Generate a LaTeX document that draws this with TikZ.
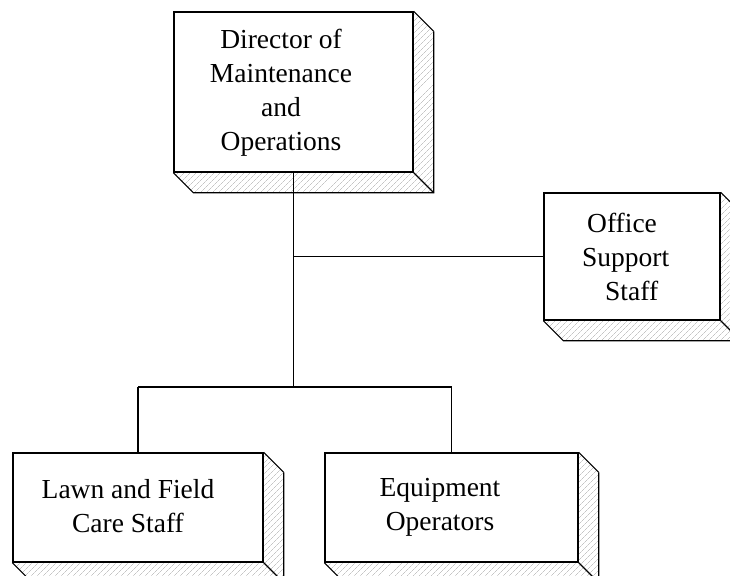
\documentclass[tikz,border=0pt]{standalone}
\usepackage{fontspec}
\setmainfont{Liberation Serif}
\usetikzlibrary{calc,patterns.meta}
\begin{document}
\begin{tikzpicture}[x=1pt,y=-1pt,
  box/.style={draw=black,line width=1.4pt,fill=white,rectangle,inner sep=0pt},
  bevel/.style={draw=black,line width=1.1pt},
  hatch/.style={pattern={Lines[angle=45,distance=4pt,line width=0.35pt]},pattern color=black!35},
  link/.style={draw=black,line width=1.1pt},
  lbl/.style={font=\fontsize{27.5}{34}\selectfont,align=center,inner sep=0pt}]
\useasboundingbox (0,0) rectangle (730,575);
\fill[white] (0,0) rectangle (730,575);
% boxes
\node[box,minimum width=239pt,minimum height=160pt] (dir) at (293.5,92) {};
\node[box,minimum width=176pt,minimum height=127pt] (off) at (632,256.5) {};
\node[box,minimum width=250pt,minimum height=109pt] (lawn) at (138,507.5) {};
\node[box,minimum width=253pt,minimum height=109pt] (eq) at (451.5,507.5) {};
% 3D bevels
\foreach \n in {dir,off,lawn,eq}{
  \fill[hatch] (\n.south west) -- ++(20,20) -| ($(\n.north east)+(20,20)$) -- (\n.north east) -- (\n.south east) -- cycle;
  \draw[bevel] (\n.south west) -- ++(20,20) -- ($(\n.south east)+(20,20)$) -- ($(\n.north east)+(20,20)$);
  \draw[bevel] (\n.north east) -- ++(20,20);
  \draw[bevel] (\n.south east) -- ++(20,20);
  \draw[box,fill=none] (\n.south west) rectangle (\n.north east);
}
% labels
\node[lbl] (tdir) at (281,93) {Director of\\Maintenance\\and\\Operations};
\node[lbl,align=left,anchor=west] (toff) at (582,257) {\hspace{5pt}Office\\Support\\\hspace{23pt}Staff};
\node[lbl] (tlawn) at (128,506) {Lawn and Field\\Care Staff};
\node[lbl] (teq) at (440,507.5) {Equipment\\Operators};
% connectors
\coordinate (j) at (293.5,387);
\draw[link] (dir.south) -- (j);
\draw[link] (dir.south |- off.west) -- (off.west);
\draw[link] (lawn.north |- j) -- (eq.north |- j);
\draw[link] (lawn.north |- j) -- (lawn.north);
\draw[link] (eq.north |- j) -- (eq.north);
\end{tikzpicture}
\end{document}
